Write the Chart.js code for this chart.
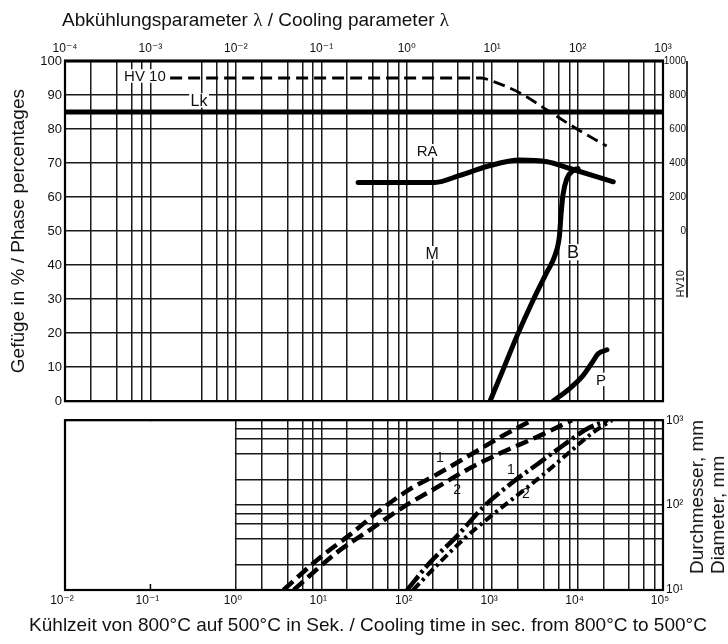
<!DOCTYPE html>
<html lang="de">
<head>
<meta charset="utf-8">
<title>Gefüge / Abkühlung</title>
<script src="https://cdn.jsdelivr.net/npm/chart.js@4.4.1/dist/chart.umd.min.js"></script>
<style>
html,body{margin:0;padding:0;background:#fff;}
#wrap{position:relative;width:728px;height:644px;overflow:hidden;background:#fff;font-family:"Liberation Sans",Arial,Helvetica,sans-serif;color:#111;}
canvas{position:absolute;left:0;}
#c1{top:0;}
#c2{top:410px;}
.txt{position:absolute;white-space:nowrap;font-size:19px;line-height:22px;}
.lam{font-family:"Liberation Serif","Times New Roman",serif;}
#ttop{left:62px;top:9px;}
#tbottom{left:4px;width:728px;text-align:center;top:614px;}
#tright{left:707px;top:497px;line-height:21px;text-align:left;transform:translate(-50%,-50%) rotate(-90deg);}
</style>
</head>
<body>
<div id="wrap">
<canvas id="c1" width="728" height="412"></canvas>
<canvas id="c2" width="728" height="234"></canvas>
<div class="txt" id="ttop">Abkühlungsparameter <span class="lam">λ</span> / Cooling parameter <span class="lam">λ</span></div>
<div class="txt" id="tbottom">Kühlzeit von 800°C auf 500°C in Sek. / Cooling time in sec. from 800°C to 500°C</div>
<div class="txt" id="tright">Durchmesser, mm<br>Diameter, mm</div>
</div>
<script>
const FONT = '"Liberation Sans", Arial, Helvetica, "DejaVu Sans", sans-serif';
Chart.defaults.font.family = FONT;
Chart.defaults.color = '#111';

// ---------- upper panel (phase percentages) ----------
const upperGridT = [0.01,0.02,0.04,0.06,0.08,0.1,0.4,0.6,0.8,1,2,4,6,8,10,20,40,60,80,100,200,400,600,800,1000,2000,4000,6000,8000,10000,20000,40000,60000,80000,100000];
const pctTicks = [0,10,20,30,40,50,60,70,80,90,100];
const hvTicks = [0,200,400,600,800,1000];

const lkT = [0.01, 100000];
const lkPct = [85, 85];
const hvT = [0.17, 740, 1020, 2120, 4390, 9840, 21900];
const hvVal = [900, 900, 880, 812, 712, 600, 500];
const raT = [27, 214, 421, 871, 2120, 4390, 8150, 26200];
const raPct = [64.3, 64.3, 66.4, 69.0, 70.9, 70.4, 68.4, 64.5];
const bT = [944, 1340, 1954, 3006, 4385, 5445, 6140, 6400, 6745, 7516, 8834, 10110];
const bPct = [0, 9.2, 19.2, 29.6, 38, 42.9, 48.7, 54.8, 60.6, 65.5, 67.8, 68.4];
const pT = [5152, 8150, 11570, 14760, 17340, 22090];
const pPct = [0, 3.8, 7.5, 11.3, 13.9, 15.1];

const upperLabelText = ['HV 10','Lk','RA','M','B','P'];
const upperLabelT = [0.0863, 0.371, 173, 198, 8840, 18800];
const upperLabelPct = [95.6, 88.4, 73.6, 43.5, 43.8, 6.4];
const upperLabelSize = [15, 16, 15, 16, 18, 15];

// ---------- lower panel (diameter) ----------
const lowerGridT = [0.01,0.1,1,2,4,6,8,10,20,40,60,80,100,200,400,600,800,1000,2000,4000,6000,8000,10000,20000,40000,60000,80000,100000];
const diamTicks = [10,20,40,60,80,100,200,400,600,800,1000];
const dash1T = [3.6, 9.7, 21.7, 48.7, 109, 224, 551, 1350, 2930];
const dash1D = [10, 24.2, 44.9, 86.9, 154, 229, 389, 661, 1000];
const dash2T = [4.75, 15.1, 37.2, 91.2, 224, 551, 1350, 3320, 8600];
const dash2D = [10, 27.5, 51.2, 94.9, 161, 273, 425, 632, 1000];
const dot1T = [101, 187, 385, 788, 1620, 3320, 6810, 12800, 22500];
const dot1D = [10, 21.1, 42.8, 94.9, 176, 299, 507, 788, 1000];
const dot2T = [119, 224, 459, 944, 1940, 3970, 8150, 15300, 25300];
const dot2D = [10, 19.4, 39.3, 72.8, 129, 229, 425, 722, 1000];
const lowerLabelText = ['1','2','1','2'];
const lowerLabelT = [245, 390, 1662, 2490];
const lowerLabelD = [356, 150, 259, 134];

// ---------- helpers ----------
const pts = (xs, ys) => xs.map((x, i) => ({x: x, y: ys[i]}));
const isDecade = v => { const l = Math.log10(v); return Math.abs(l - Math.round(l)) < 1e-6; };
const SUP = {'-':'⁻','0':'⁰','1':'¹','2':'²','3':'³','4':'⁴','5':'⁵','6':'⁶','7':'⁷','8':'⁸','9':'⁹'};
const pow10 = e => '10' + String(e).split('').map(c => SUP[c]).join('');
const GRID = {color:'#1a1a1a', lineWidth:1.5, drawTicks:false};

function curve(data, extra) {
  return Object.assign({
    data: data, borderColor:'#000', backgroundColor:'#000', borderWidth:5,
    pointRadius:0, pointHoverRadius:0, fill:false, tension:0.4,
    cubicInterpolationMode:'monotone', borderCapStyle:'round', borderJoinStyle:'round'
  }, extra || {});
}

const upperDeco = {
  id:'upperDeco',
  afterDatasetsDraw(chart) {
    const {ctx, chartArea:a, scales} = chart;
    const x = scales.x, y = scales.y, yHV = scales.yHV;
    ctx.save();
    ctx.textAlign = 'center'; ctx.textBaseline = 'middle';
    upperLabelText.forEach((txt, i) => {
      const px = x.getPixelForValue(upperLabelT[i]);
      const py = y.getPixelForValue(upperLabelPct[i]);
      const sz = upperLabelSize[i];
      ctx.font = sz + 'px ' + FONT;
      const w = ctx.measureText(txt).width;
      ctx.fillStyle = '#fff';
      ctx.fillRect(px - w/2 - 1.5, py - sz*0.45, w + 3, sz*0.9);
      ctx.fillStyle = '#111';
      ctx.fillText(txt, px, py + 1);
    });
    ctx.strokeStyle = '#000';
    ctx.lineWidth = 2.2;
    ctx.strokeRect(a.left, a.top, a.right - a.left, a.bottom - a.top);
    ctx.lineWidth = 3.2;
    ctx.beginPath(); ctx.moveTo(a.left - 1, a.top); ctx.lineTo(a.right + 1, a.top); ctx.stroke();
    // HV 10 side axis line
    const hx = a.right + 24;
    ctx.lineWidth = 1.6;
    ctx.beginPath();
    ctx.moveTo(hx, yHV.getPixelForValue(1000));
    ctx.lineTo(hx, yHV.getPixelForValue(-390));
    ctx.stroke();
    ctx.save();
    ctx.translate(a.right + 18, yHV.getPixelForValue(-310));
    ctx.rotate(-Math.PI / 2);
    ctx.font = '11px ' + FONT;
    ctx.fillStyle = '#111';
    ctx.fillText('HV10', 0, 0);
    ctx.restore();
    ctx.restore();
  }
};

const lowerDeco = {
  id:'lowerDeco',
  beforeDatasetsDraw(chart) {
    const {ctx, chartArea:a, scales} = chart;
    const x1 = scales.x.getPixelForValue(1);
    ctx.save();
    ctx.fillStyle = '#fff';
    ctx.fillRect(a.left + 1, a.top + 1, x1 - 1 - (a.left + 1), a.bottom - a.top - 2);
    ctx.restore();
  },
  afterDatasetsDraw(chart) {
    const {ctx, chartArea:a, scales} = chart;
    const x = scales.x, y = scales.y;
    ctx.save();
    ctx.fillStyle = '#111';
    ctx.font = '14px ' + FONT;
    ctx.textAlign = 'center'; ctx.textBaseline = 'middle';
    lowerLabelText.forEach((t, i) => ctx.fillText(t, x.getPixelForValue(lowerLabelT[i]), y.getPixelForValue(lowerLabelD[i])));
    ctx.strokeStyle = '#000';
    ctx.lineWidth = 2.2;
    ctx.strokeRect(a.left, a.top, a.right - a.left, a.bottom - a.top);
    const xt = x.getPixelForValue(0.1);
    ctx.lineWidth = 1.5;
    ctx.beginPath(); ctx.moveTo(xt, a.bottom); ctx.lineTo(xt, a.bottom - 6); ctx.stroke();
    ctx.restore();
  }
};

new Chart(document.getElementById('c1'), {
  type:'line',
  data:{datasets:[
    curve(pts(lkT, lkPct)),
    curve(pts(hvT, hvVal), {yAxisID:'yHV', borderWidth:2.8, borderDash:[12,6], borderCapStyle:'butt'}),
    curve(pts(raT, raPct)),
    curve(pts(bT, bPct)),
    curve(pts(pT, pPct))
  ]},
  options:{
    responsive:false, animation:false, events:[],
    layout:{padding:{top:39, left:0, right:42, bottom:6}},
    plugins:{legend:{display:false}, tooltip:{enabled:false}},
    scales:{
      x:{type:'logarithmic', position:'top', min:0.01, max:100000,
        afterBuildTicks: s => { s.ticks = upperGridT.map(v => ({value:v})); },
        afterFit: s => { s.height = 22; },
        grid:GRID, border:{display:false},
        ticks:{autoSkip:false, maxRotation:0, minRotation:0, padding:5, font:{size:12},
          callback: v => isDecade(v) ? pow10(Math.round(Math.log10(v)) - 2) : ''}},
      y:{type:'linear', position:'left', min:0, max:100,
        afterBuildTicks: s => { s.ticks = pctTicks.map(v => ({value:v})); },
        afterFit: s => { s.width = 65; },
        grid:GRID, border:{display:false},
        ticks:{padding:3, font:{size:13}},
        title:{display:true, text:'Gefüge in % / Phase percentages', font:{size:19}, padding:{top:7, bottom:0}, color:'#111'}},
      yHV:{type:'linear', position:'right', min:-1000, max:1000,
        afterBuildTicks: s => { s.ticks = hvTicks.map(v => ({value:v})); },
        afterFit: s => { s.width = 23; },
        grid:{display:false, drawTicks:false}, border:{display:false},
        ticks:{crossAlign:'far', padding:0, font:{size:10}, callback: v => String(v)}}
    }
  },
  plugins:[upperDeco]
});

new Chart(document.getElementById('c2'), {
  type:'line',
  data:{datasets:[
    curve(pts(dash1T, dash1D), {borderWidth:4.5, borderDash:[13,6], borderCapStyle:'butt'}),
    curve(pts(dash2T, dash2D), {borderWidth:4.5, borderDash:[13,6], borderCapStyle:'butt'}),
    curve(pts(dot1T, dot1D), {borderWidth:4.5, borderDash:[18,4,3,4], borderCapStyle:'butt'}),
    curve(pts(dot2T, dot2D), {borderWidth:4, borderDash:[9,4,3,4], borderCapStyle:'butt'})
  ]},
  options:{
    responsive:false, animation:false, events:[],
    layout:{padding:{top:6, left:65, right:0, bottom:0}},
    plugins:{legend:{display:false}, tooltip:{enabled:false}},
    scales:{
      x:{type:'logarithmic', position:'bottom', min:0.01, max:100000,
        afterBuildTicks: s => { s.ticks = lowerGridT.map(v => ({value:v})); },
        afterFit: s => { s.height = 54; },
        grid:GRID, border:{display:false},
        ticks:{autoSkip:false, maxRotation:0, minRotation:0, padding:3, labelOffset:-3, font:{size:12},
          callback: v => isDecade(v) ? pow10(Math.round(Math.log10(v))) : ''}},
      y:{type:'logarithmic', position:'right', min:10, max:1000,
        afterBuildTicks: s => { s.ticks = diamTicks.map(v => ({value:v})); },
        afterFit: s => { s.width = 65; },
        grid:GRID, border:{display:false},
        ticks:{autoSkip:false, padding:3, font:{size:12},
          callback: v => isDecade(v) ? pow10(Math.round(Math.log10(v))) : ''}}
    }
  },
  plugins:[lowerDeco]
});
</script>
</body>
</html>
